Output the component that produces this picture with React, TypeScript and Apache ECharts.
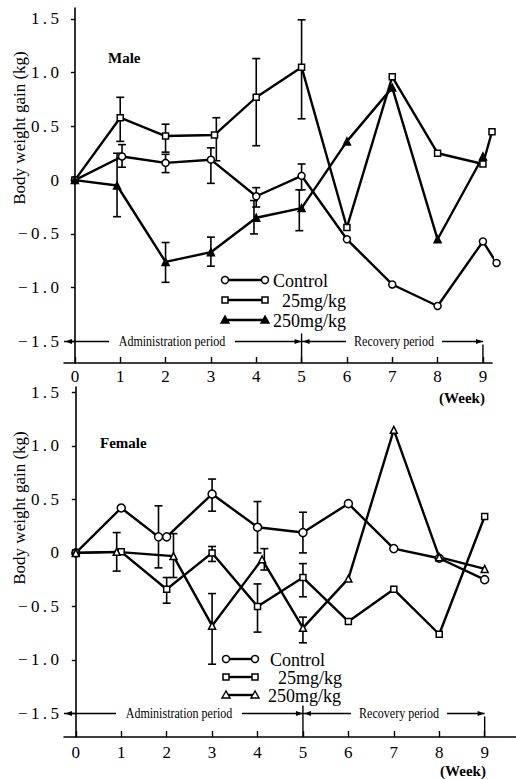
import React, { useEffect, useRef } from "react";
import * as echarts from "echarts";

// ---- data (weeks, body weight gain kg) ----
const WEEK_TICKS = [0, 1, 2, 3, 4, 5, 6, 7, 8, 9];
const Y_TICKS = [-1.5, -1, -0.5, 0, 0.5, 1, 1.5];

const maleControl = [[0, 0], [1.04, 0.22], [2, 0.16], [3, 0.19], [4, -0.15], [5, 0.04], [6, -0.55], [7, -0.97], [8, -1.17], [9, -0.57], [9.3, -0.77]];
const male25 = [[0, 0], [1, 0.58], [2, 0.41], [3.08, 0.42], [4, 0.77], [5, 1.05], [6, -0.44], [7, 0.96], [8, 0.25], [9, 0.15], [9.2, 0.45]];
const male250 = [[0, 0], [0.93, -0.05], [2, -0.76], [3, -0.67], [4, -0.35], [5, -0.26], [6, 0.36], [7, 0.86], [8, -0.55], [9, 0.22]];
// [week, low, high]
const maleErr = [
  [1, 0.36, 0.77], [1.04, 0.12, 0.33], [0.93, -0.34, 0.25],
  [2, 0.26, 0.52], [2, 0.07, 0.24], [2, -0.95, -0.58],
  [3.12, 0.18, 0.58], [3, -0.03, 0.3], [3, -0.8, -0.53],
  [4, 0.32, 1.13], [4, -0.25, -0.07], [3.95, -0.5, -0.19],
  [5, 0.57, 1.49], [5, -0.09, 0.15], [4.95, -0.47, -0.09],
];

const femaleControl = [[0, 0], [1, 0.42], [1.82, 0.15], [2, 0.15], [3, 0.55], [4, 0.24], [5, 0.19], [6, 0.46], [7, 0.04], [8, -0.05], [9, -0.25]];
const female25 = [[0, 0], [1, 0.01], [2, -0.34], [3, 0.0], [4, -0.5], [5, -0.23], [6, -0.64], [7, -0.34], [8, -0.76], [9, 0.34]];
const female250 = [[0, 0], [0.9, 0.01], [2.15, -0.03], [3, -0.68], [4.1, -0.06], [5, -0.7], [6, -0.24], [7, 1.15], [8, -0.04], [9, -0.15]];
const femaleErr = [
  [0.9, -0.17, 0.19], [1.82, -0.14, 0.44], [2.15, -0.23, 0.18], [2, -0.47, -0.23],
  [3, 0.39, 0.69], [3, -0.08, 0.06], [3, -1.04, -0.38],
  [4, 0.0, 0.48], [4.15, -0.16, 0.04], [4, -0.74, -0.29],
  [5, 0.0, 0.38], [5, -0.41, -0.1], [5, -0.84, -0.6],
];

const LEGEND_NAMES = ["Control", "25mg/kg", "250mg/kg"];

const FONT = "Liberation Serif";

export default function App() {
  const ref = useRef<HTMLDivElement>(null);
  useEffect(() => {
    const chart = echarts.init(ref.current!, null, { renderer: "svg" });

    const TS = "\u2009";
    const fmtY = (v: number) => {
      if (v === 0) return "0";
      const s = Math.abs(v).toFixed(1).split(".").join(TS + "." + TS);
      return (v < 0 ? "\u2212" + TS : "") + s;
    };

    const xAxisBase = (gi: number, min: number, max: number, margin: number) => ({
      type: "value",
      gridIndex: gi,
      min,
      max,
      splitLine: { show: false },
      axisLine: { onZero: false, lineStyle: { color: "#000", width: 1.6 } },
      axisTick: { inside: true, length: 6, lineStyle: { color: "#000", width: 1.4 }, customValues: WEEK_TICKS },
      axisLabel: { customValues: WEEK_TICKS, color: "#000", fontSize: 17, fontFamily: FONT, margin },
    });
    const yAxisBase = (gi: number, min: number, max: number) => ({
      type: "value",
      gridIndex: gi,
      min,
      max,
      splitLine: { show: false },
      axisLine: { lineStyle: { color: "#000", width: 1.6 } },
      axisTick: { length: 4, lineStyle: { color: "#000", width: 1.4 }, customValues: Y_TICKS },
      axisLabel: { customValues: Y_TICKS, formatter: fmtY, color: "#000", fontSize: 17, fontFamily: FONT, margin: 5 },
    });

    const lineSeries = (name: string, data: number[][], gi: number, symbol: string, size: number, filled: boolean) => ({
      type: "line",
      name,
      xAxisIndex: gi,
      yAxisIndex: gi,
      data,
      clip: false,
      symbol,
      symbolSize: size,
      showAllSymbol: true,
      lineStyle: { color: "#000", width: 2.4 },
      itemStyle: { color: filled ? "#000" : "#fff", borderColor: "#000", borderWidth: 1.5 },
      z: 3,
    });

    const errSeries = (data: number[][], gi: number) => ({
      type: "custom",
      xAxisIndex: gi,
      yAxisIndex: gi,
      data,
      clip: false,
      encode: { x: 0, y: [1, 2] },
      z: 2,
      renderItem: (params: any, api: any) => {
        const x = api.value(0);
        const p1 = api.coord([x, api.value(1)]);
        const p2 = api.coord([x, api.value(2)]);
        const w = 4;
        const st = { stroke: "#000", lineWidth: 1.6 };
        return {
          type: "group",
          children: [
            { type: "line", shape: { x1: p1[0], y1: p1[1], x2: p2[0], y2: p2[1] }, style: st },
            { type: "line", shape: { x1: p1[0] - w, y1: p1[1], x2: p1[0] + w, y2: p1[1] }, style: st },
            { type: "line", shape: { x1: p2[0] - w, y1: p2[1], x2: p2[0] + w, y2: p2[1] }, style: st },
          ],
        };
      },
    });

    chart.setOption({
      animation: false,
      backgroundColor: "#fff",
      grid: [
        { left: 64, top: 8, width: 428, height: 355 },
        { left: 64, top: 387, width: 452, height: 350 },
      ],
      xAxis: [xAxisBase(0, -0.24, 9.2, 5), xAxisBase(1, -0.26, 9.69, 7)],
      yAxis: [yAxisBase(0, -1.7, 1.6), yAxisBase(1, -1.72, 1.55)],
      series: [
        errSeries(maleErr, 0),
        lineSeries(LEGEND_NAMES[0], maleControl, 0, "circle", 7, false),
        lineSeries(LEGEND_NAMES[1], male25, 0, "rect", 6, false),
        lineSeries(LEGEND_NAMES[2], male250, 0, "triangle", 7, true),
        errSeries(femaleErr, 1),
        lineSeries(LEGEND_NAMES[0], femaleControl, 1, "circle", 8, false),
        lineSeries(LEGEND_NAMES[1], female25, 1, "rect", 6, false),
        lineSeries(LEGEND_NAMES[2], female250, 1, "triangle", 7, false),
      ],
    });

    const px = (gi: number, x: number, y: number) => chart.convertToPixel({ gridIndex: gi } as any, [x, y]) as number[];
    const stroke = { stroke: "#000", lineWidth: 1.4 };
    const g: any[] = [];
    const line = (x1: number, y1: number, x2: number, y2: number) =>
      g.push({ type: "line", shape: { x1, y1, x2, y2 }, style: stroke, silent: true });
    const arrow = (x: number, y: number, dir: number) =>
      g.push({ type: "polygon", shape: { points: [[x, y], [x - dir * 7, y - 2.5], [x - dir * 7, y + 2.5]] }, style: { fill: "#000" }, silent: true });
    const text = (t: string, x: number, y: number, size: number, weight: string, opts: any = {}) =>
      g.push({
        type: "text",
        x,
        y,
        silent: true,
        ...opts,
        style: { text: t, fill: "#000", fontSize: size, fontFamily: FONT, fontWeight: weight, align: opts.align || "left", verticalAlign: "middle" },
      });

    const periods = (gi: number, xMin: number, adminC: number, recC: number) => {
      const [xl, yp] = px(gi, xMin, -1.5);
      const [x5] = px(gi, 5, -1.5);
      const [x9] = px(gi, 9, -1.5);
      const [, yb] = px(gi, 0, gi === 0 ? -1.7 : -1.72);
      const adminW = 118, recW = 88;
      line(xl, yp, adminC - adminW / 2 - 4, yp);
      arrow(xl + 1, yp, -1);
      text("Administration period", adminC, yp, 14, "normal", { align: "center", scaleX: 0.86 });
      line(adminC + adminW / 2 + 4, yp, x5, yp);
      arrow(x5, yp, 1);
      line(x5, yp - 8, x5, yb);
      line(x5, yp, recC - recW / 2 - 4, yp);
      arrow(x5 + 1, yp, -1);
      text("Recovery period", recC, yp, 14, "normal", { align: "center", scaleX: 0.86 });
      line(recC + recW / 2 + 4, yp, x9, yp);
      arrow(x9, yp, 1);
      line(x9, yp + 3, x9, yb);
    };
    periods(0, -0.24, 172, 394);
    periods(1, -0.26, 179, 399);

    // y axis names
    text("Body weight gain (kg)", 19, 128, 17, "normal", { rotation: Math.PI / 2, align: "center" });
    text("Body weight gain (kg)", 19, 508, 17, "normal", { rotation: Math.PI / 2, align: "center" });
    // panel labels
    text("Male", 108, 58, 15, "bold");
    text("Female", 100, 443, 15, "bold");
    // week labels
    text("(Week)", 462, 398, 15, "bold", { align: "center" });
    text("(Week)", 463, 771, 15, "bold", { align: "center" });

    // legends
    const legend = (x1: number, x2: number, ys: number[], tx: number[], filledTri: boolean) => {
      const marks = ["circle", "rect", "tri"];
      ys.forEach((y, i) => {
        g.push({ type: "line", shape: { x1, y1: y, x2, y2: y }, style: { stroke: "#000", lineWidth: 2.4 }, silent: true });
        [x1, x2].forEach((cx) => {
          if (marks[i] === "circle") g.push({ type: "circle", shape: { cx, cy: y, r: 3.5 }, style: { fill: "#fff", stroke: "#000", lineWidth: 1.5 }, silent: true });
          else if (marks[i] === "rect") g.push({ type: "rect", shape: { x: cx - 3, y: y - 3, width: 6, height: 6 }, style: { fill: "#fff", stroke: "#000", lineWidth: 1.5 }, silent: true });
          else g.push({ type: "polygon", shape: { points: [[cx, y - 4], [cx - 4, y + 3], [cx + 4, y + 3]] }, style: { fill: filledTri ? "#000" : "#fff", stroke: "#000", lineWidth: 1.4 }, silent: true });
        });
        text(LEGEND_NAMES[i], tx[i], y + 1, 18, "normal");
      });
    };
    legend(225, 265, [280, 300, 320], [273, 282, 273], true);
    legend(226, 255, [659, 677, 695], [270, 278, 268], false);

    chart.setOption({ graphic: g });
    return () => chart.dispose();
  }, []);
  return <div ref={ref} style={{ position: "absolute", left: 0, top: 0, width: 516, height: 779 }} />;
}
